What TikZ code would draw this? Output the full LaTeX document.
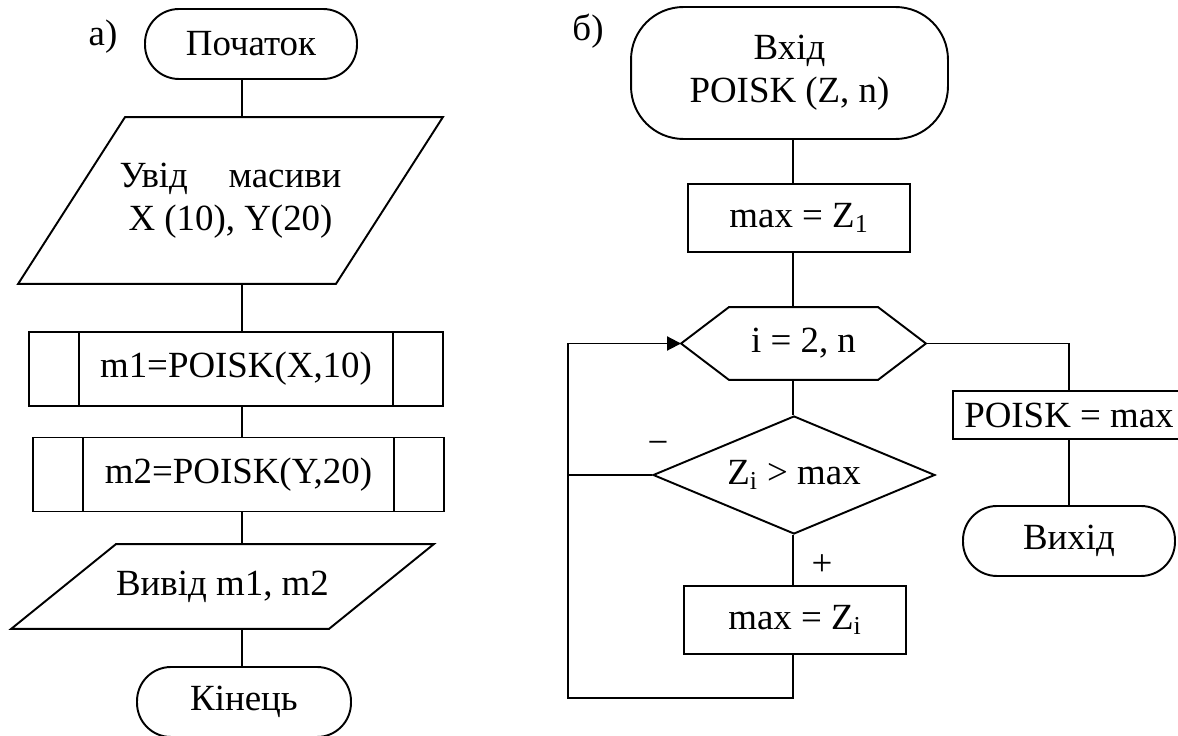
\documentclass[tikz,border=0pt]{standalone}
\usepackage{fontspec}
\setmainfont{Liberation Serif}
\usetikzlibrary{arrows.meta,positioning,calc,shapes.geometric}
\tikzset{
  every picture/.style={line width=1.1pt, font=\fontsize{21}{24.3}\selectfont},
  term/.style={draw, rounded corners=0.68cm, minimum width=4.24cm, minimum height=1.4cm, align=center},
  proc/.style={draw, minimum width=4.44cm, minimum height=1.36cm, inner sep=2pt, align=center},
  subproc/.style={proc, minimum height=1.48cm,
    path picture={\draw[line width=1.1pt]
      ([xshift=1cm]path picture bounding box.north west) -- ([xshift=1cm]path picture bounding box.south west)
      ([xshift=-1cm]path picture bounding box.north east) -- ([xshift=-1cm]path picture bounding box.south east);}},
  slanted/.style={inner sep=0pt, align=center},
  loopbox/.style={inner sep=0pt, minimum width=4.86cm, minimum height=1.42cm},
  decide/.style={draw, diamond, aspect=2.39, inner sep=1pt, minimum width=5.64cm, minimum height=2.36cm},
  flow/.style={-{Triangle[length=0.28cm,width=0.28cm]}},
  tag/.style={inner sep=0pt},
}

\begin{document}
\begin{tikzpicture}[x=0.02cm, y=-0.02cm]
  \useasboundingbox (0,0) rectangle (1178,736);

  % а) main program
  \coordinate (spineA) at (242,0);
  \node[tag] (tagA) at (103,37) {а)};
  \node[term] (beginA) at (251,44) {Початок};
  \node[slanted, minimum width=8.46cm, minimum height=3.3cm] (inA) at (230.5,200.5)
    {\makebox[4.44cm][s]{Увід масиви}\\X (10), Y(20)};
  \draw ($(inA.north west)+(2.14cm,0)$) -- (inA.north east)
    -- ($(inA.south east)+(-2.14cm,0)$) -- (inA.south west) -- cycle;
  \node[subproc, minimum width=8.28cm] (callX) at (236,369) {m1=POISK(X,10)};
  \node[subproc, minimum width=8.22cm] (callY) at (238.5,474.5) {m2=POISK(Y,20)};
  \node[slanted, minimum width=8.42cm, minimum height=1.66cm] (outA) at (222.5,586.5) {Вивід m1, m2};
  \draw ($(outA.north west)+(2.1cm,0)$) -- (outA.north east)
    -- ($(outA.south east)+(-2.1cm,0)$) -- (outA.south west) -- cycle;
  \node[term, minimum width=4.28cm] (endA) at (244,702) {Кінець};

  \draw (beginA.south -| spineA) -- (inA.north -| spineA);
  \draw (inA.south -| spineA) -- (callX.north -| spineA);
  \draw (callX.south -| spineA) -- (callY.north -| spineA);
  \draw (callY.south -| spineA) -- (outA.north -| spineA);
  \draw (outA.south -| spineA) -- (endA.north -| spineA);

  % б) function POISK
  \coordinate (spineB) at (793,0);
  \coordinate (loopL) at (568,698);
  \node[tag] (tagB) at (588,31) {б)};
  \node[term, rounded corners=1.05cm, minimum width=6.34cm, minimum height=2.64cm] (beginB) at (789.5,73)
    {Вхід\\POISK (Z, n)};
  \node[proc] (initMax) at (799,218) {max = Z\textsubscript{1}};
  \node[loopbox] (loop) at (803.5,343.5) {i = 2, n};
  \draw (loop.west) -- ($(loop.north west)+(0.96cm,0)$) -- ($(loop.north east)+(-0.96cm,0)$)
    -- (loop.east) -- ($(loop.south east)+(-0.96cm,0)$) -- ($(loop.south west)+(0.96cm,0)$) -- cycle;
  \node[decide] (cond) at (794,475) {Z\textsubscript{i} > max};
  \node[proc] (setMax) at (795,620) {max = Z\textsubscript{i}};
  \node[proc, minimum width=4.64cm, minimum height=0.96cm] (retv) at (1069,415) {POISK = max};
  \node[term] (endB) at (1069,541) {Вихід};
  \node[tag] (minus) at (658,448) {−};
  \node[tag] (plus) at (822,565) {+};

  \draw (beginB.south -| spineB) -- (initMax.north -| spineB);
  \draw (initMax.south -| spineB) -- (loop.north -| spineB);
  \draw (loop.south -| spineB) -- (cond.north -| spineB);
  \draw (cond.south -| spineB) -- (setMax.north -| spineB);
  \draw[flow] (setMax.south -| spineB) |- (loopL) |- (loop.west);
  \draw (cond.west) -- (cond.west -| loopL);
  \draw (loop.east) -| (retv.north);
  \draw (retv) -- (endB);
\end{tikzpicture}
\end{document}
